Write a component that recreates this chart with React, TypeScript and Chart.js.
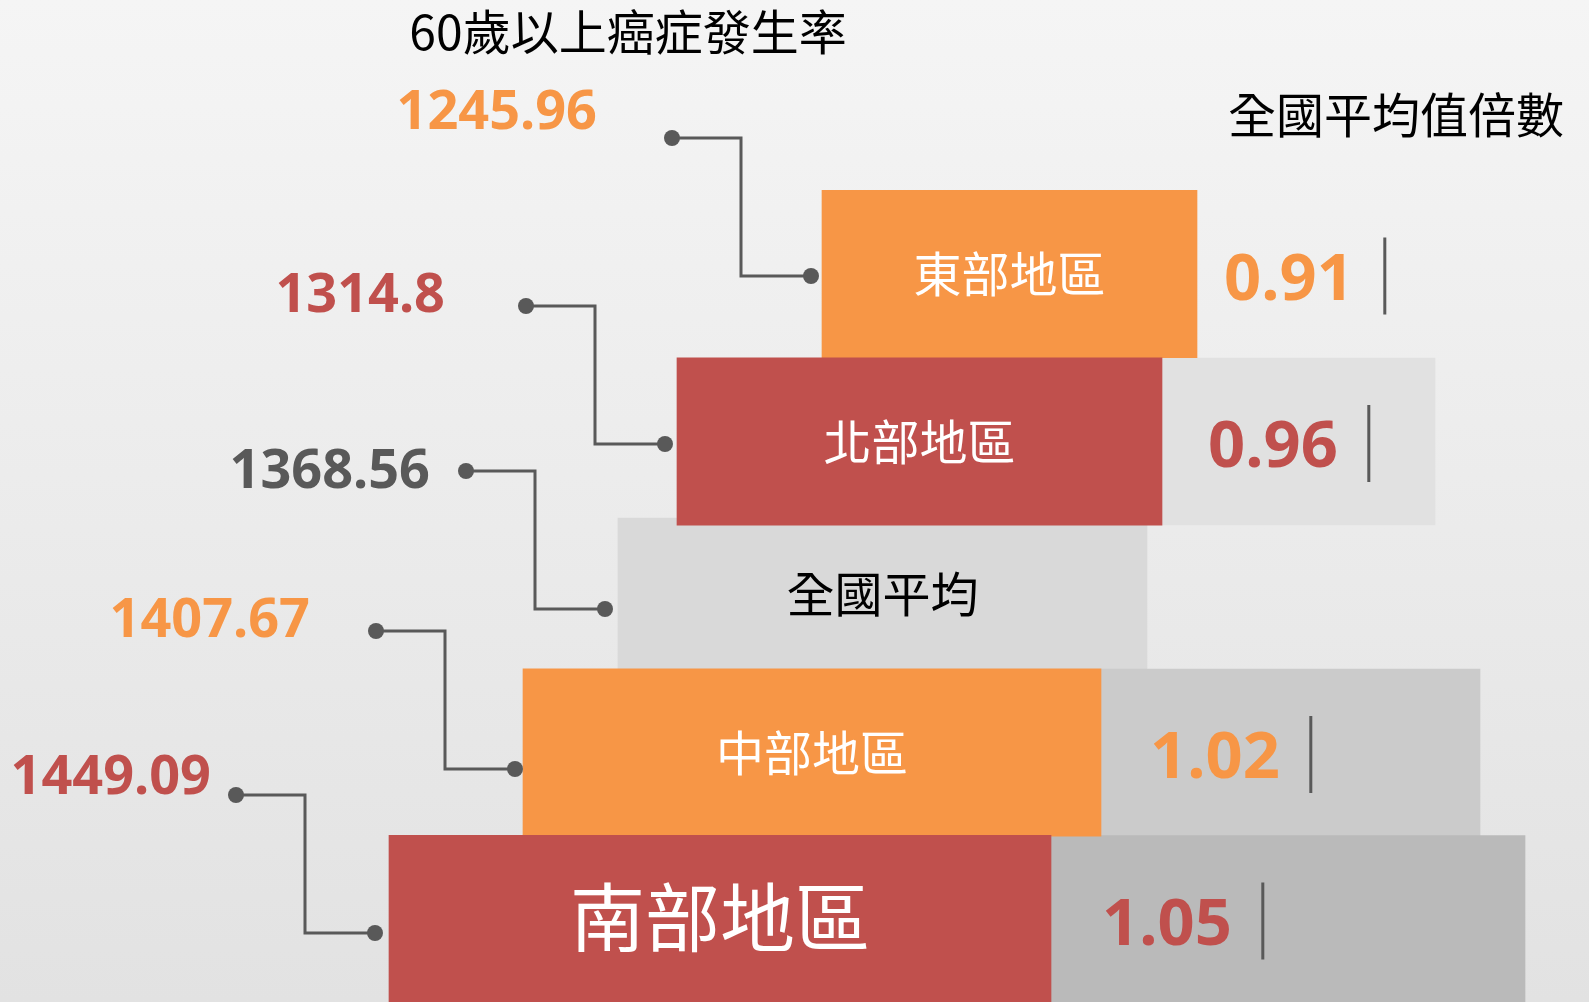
import React, { useEffect, useRef } from 'react';
import { Chart, registerables } from 'chart.js';

Chart.register(...registerables);

const W = 1589;
const H = 1002;

// ---- data ----
const regions = ['東部地區', '北部地區', '全國平均', '中部地區', '南部地區'];
const incidenceRates = [1245.96, 1314.8, 1368.56, 1407.67, 1449.09];
const ratioToNational: (number | null)[] = [0.91, 0.96, null, 1.02, 1.05];
const titleText = '60歲以上癌症發生率';
const ratioHeader = '全國平均值倍數';
const nationalIndex = 2;

// ---- layout of the pyramid steps (in axis layout units) ----
const barStart = [822, 677, 618, 523, 389];
const barEnd = [1197, 1162, 1147, 1101, 1051];
const shadeEnd: (number | null)[] = [null, 1435, null, 1480, 1525];
const rowTop = [190, 358, 518, 669, 836];
const rowHeight = [168, 167, 151, 167, 166];
const rowCenter = rowTop.map((t, i) => t + rowHeight[i] / 2);

// ---- styles ----
const ORANGE = '#f79646';
const RED = '#c0504d';
const DARK = '#595959';
const barColors = [ORANGE, RED, '#d9d9d9', ORANGE, RED];
const shadeColors = ['#e1e1e1', '#e1e1e1', '#e1e1e1', '#cbcbcb', '#bababa'];
const valueColors = [ORANGE, RED, DARK, ORANGE, RED];
const labelColors = ['#ffffff', '#ffffff', '#000000', '#ffffff', '#ffffff'];
const labelSizes = [48, 48, 48, 48, 75];
const labelDy = [0, 0, 0, 0, -2];
const connectorGap = [11, 12, 13, 8, 14];
const connectorDy = [2, 2.5, 15.5, 16.5, 14];
const valueGap = [75, 81, 36, 66, 25];
const valueRise = [28, 13, 2, 13, 20];
const ratioGap = [27, 46, 0, 49, 51];
const ratioDy = [2.5, 2.5, 0, 2.5, 2.5];

const CJK = '"Noto Sans CJK TC", "Noto Sans CJK SC", sans-serif';
const NUM = '"Noto Sans", "Open Sans", sans-serif';

function text(ctx: CanvasRenderingContext2D, s: string, x: number, cy: number, font: string, size: number, weight: string, color: string, align: CanvasTextAlign, k: number) {
  ctx.font = `${weight} ${size}px ${font}`;
  ctx.fillStyle = color;
  ctx.textAlign = align;
  ctx.textBaseline = 'alphabetic';
  ctx.fillText(s, x, cy + k * size);
  return ctx.measureText(s).width;
}

const overlay = {
  id: 'overlay',
  beforeDraw(chart: any) {
    const ctx = chart.ctx as CanvasRenderingContext2D;
    const g = ctx.createLinearGradient(0, 0, 0, chart.height);
    g.addColorStop(0, '#f5f5f5');
    g.addColorStop(1, '#e2e2e2');
    ctx.save();
    ctx.fillStyle = g;
    ctx.fillRect(0, 0, chart.width, chart.height);
    ctx.restore();
  },
  afterDatasetsDraw(chart: any) {
    const ctx = chart.ctx as CanvasRenderingContext2D;
    ctx.save();
    const natMeta = chart.getDatasetMeta(0);
    const colMeta = chart.getDatasetMeta(2);
    const bar = (i: number) => {
      const el = (i === nationalIndex ? natMeta : colMeta).data[i];
      const p = el.getProps(['x', 'y', 'base', 'height'], true);
      return { left: Math.min(p.x, p.base), right: Math.max(p.x, p.base), cy: p.y };
    };

    // title & header
    text(ctx, titleText, 628, 32, CJK, 48, '400', '#000', 'center', 0.38);
    text(ctx, ratioHeader, 1396, 115, CJK, 48, '400', '#000', 'center', 0.38);

    regions.forEach((name, i) => {
      const b = bar(i);
      // label inside bar
      text(ctx, name, (b.left + b.right) / 2, b.cy + labelDy[i], CJK, labelSizes[i], '400', labelColors[i], 'center', 0.38);

      // connector
      const rx = b.left - connectorGap[i];
      const ry = b.cy + connectorDy[i];
      const lx = rx - 139;
      const ly = ry - 138;
      const ex = rx - 70;
      ctx.strokeStyle = DARK;
      ctx.lineWidth = 3;
      ctx.lineJoin = 'miter';
      ctx.beginPath();
      ctx.moveTo(lx, ly);
      ctx.lineTo(ex, ly);
      ctx.lineTo(ex, ry);
      ctx.lineTo(rx, ry);
      ctx.stroke();
      ctx.fillStyle = DARK;
      [[lx, ly], [rx, ry]].forEach(([x, y]) => {
        ctx.beginPath();
        ctx.arc(x, y, 8, 0, Math.PI * 2);
        ctx.fill();
      });

      // incidence value
      text(ctx, String(incidenceRates[i]), lx - valueGap[i], ly - valueRise[i], NUM, 54, '700', valueColors[i], 'right', 0.357);

      // ratio value
      const r = ratioToNational[i];
      if (r !== null) {
        const tx = b.right + ratioGap[i];
        const ty = b.cy + ratioDy[i];
        const w = text(ctx, r.toFixed(2), tx, ty, NUM, 65, '700', valueColors[i], 'left', 0.357);
        const sx = tx + w + 31;
        ctx.fillStyle = DARK;
        ctx.fillRect(sx - 1.5, ty - 39, 3, 77);
      }
    });
    ctx.restore();
  },
};

export default function App() {
  const ref = useRef<HTMLCanvasElement | null>(null);
  useEffect(() => {
    const canvas = ref.current!;
    const pt = (i: number, span: number[] | null) => ({ x: span, y: rowCenter[i] });
    const chart = new Chart(canvas, {
      type: 'bar',
      data: {
        datasets: [
          {
            label: 'national',
            data: regions.map((_, i) => pt(i, i === nationalIndex ? [barStart[i], barEnd[i]] : null)) as any,
            backgroundColor: barColors,
            barThickness: rowHeight[nationalIndex],
            order: 3,
          },
          {
            label: 'ratio',
            data: regions.map((_, i) => pt(i, shadeEnd[i] !== null ? [barEnd[i], shadeEnd[i] as number] : null)) as any,
            backgroundColor: shadeColors,
            barThickness: 167,
            order: 2,
          },
          {
            label: 'rate',
            data: regions.map((_, i) => pt(i, i !== nationalIndex ? [barStart[i], barEnd[i]] : null)) as any,
            backgroundColor: barColors,
            barThickness: 167.5,
            order: 1,
          },
        ],
      },
      options: {
        indexAxis: 'y',
        animation: false,
        responsive: false,
        devicePixelRatio: 1,
        events: [],
        layout: { padding: 0 },
        datasets: { bar: { grouped: false, borderWidth: 0 } } as any,
        scales: {
          x: { type: 'linear', min: 0, max: W, display: false },
          y: { type: 'linear', min: 0, max: H, reverse: true, offset: false, display: false },
        },
        plugins: { legend: { display: false }, tooltip: { enabled: false } },
      },
      plugins: [overlay],
    });
    let alive = true;
    (document as any).fonts?.ready?.then(() => { if (alive) chart.draw(); });
    return () => { alive = false; chart.destroy(); };
  }, []);
  return (
    <div style={{ position: 'absolute', left: 0, top: 0, width: W, height: H }}>
      <canvas ref={ref} width={W} height={H} style={{ width: W, height: H, display: 'block' }} />
    </div>
  );
}
